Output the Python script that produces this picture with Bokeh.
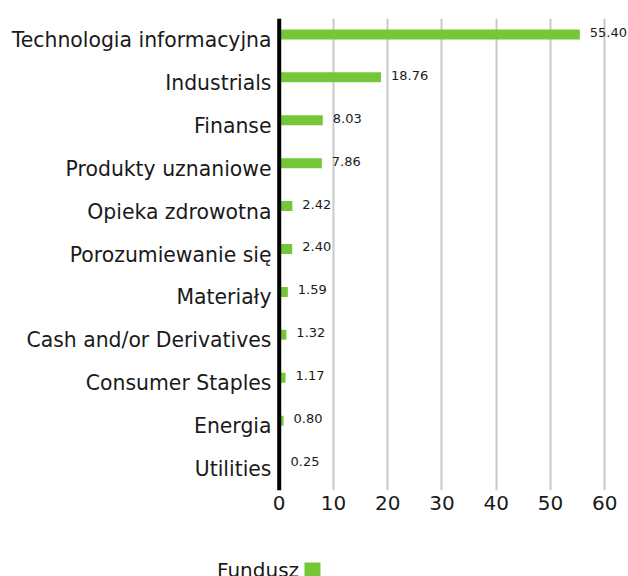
from bokeh.plotting import figure
from bokeh.models import (FactorRange, Range1d, Span, FixedTicker, ColumnDataSource,
                          Legend, LegendItem)
from bokeh.transform import dodge
from bokeh.core.properties import value
from bokeh.embed import file_html
from bokeh.resources import INLINE

categories = ["Technologia informacyjna", "Industrials", "Finanse", "Produkty uznaniowe",
              "Opieka zdrowotna", "Porozumiewanie się", "Materiały",
              "Cash and/or Derivatives", "Consumer Staples", "Energia", "Utilities"]
values = [55.40, 18.76, 8.03, 7.86, 2.42, 2.40, 1.59, 1.32, 1.17, 0.80, 0.25]
x_ticks = [0, 10, 20, 30, 40, 50, 60]
series_name = "Fundusz"

GREEN = "#74c837"
FONT = "DejaVu Sans"
TXT = "#1a1a1a"

BORDER_L, BORDER_T, BORDER_B = 272, 18, 86
FRAME_W, FRAME_H = 356, 472
X0, X1 = -1.235, 64.37

src = ColumnDataSource(dict(cat=categories, val=values,
                            lab=[f"{v:.2f}" for v in values]))

p = figure(frame_width=FRAME_W, frame_height=FRAME_H, output_backend="svg",
           toolbar_location=None,
           y_range=FactorRange(factors=categories[::-1]),
           x_range=Range1d(X0, X1),
           min_border_left=BORDER_L, min_border_right=0, min_border_top=BORDER_T,
           min_border_bottom=BORDER_B)
p.outline_line_color = None
p.background_fill_color = "white"
p.border_fill_color = "white"

bars = p.hbar(y=dodge("cat", 0.128, range=p.y_range), left=0, right="val", height=0.233,
              source=src, fill_color=GREEN, line_color=None)
# transparent twin, only used to reserve the (empty) glyph slot before the legend text
ghost = p.hbar(y=dodge("cat", 0.128, range=p.y_range), left=0, right="val", height=0.233,
               source=src, fill_alpha=0, line_alpha=0)
p.text(x="val", y=dodge("cat", 0.175, range=p.y_range), text="lab", source=src,
       x_offset=10, text_baseline="middle", text_align="left",
       text_font=value(FONT), text_font_size="13px", text_color=TXT)

p.add_layout(Span(location=0, dimension="height", line_color="black", line_width=4))

p.xaxis.ticker = FixedTicker(ticks=x_ticks)
p.xaxis.major_label_text_font = FONT
p.xaxis.major_label_text_font_size = "20px"
p.xaxis.major_label_text_color = TXT
p.xaxis.major_label_standoff = 5
p.xaxis.major_tick_out = 0
p.xaxis.major_tick_in = 0
p.xaxis.minor_tick_out = 0
p.xaxis.minor_tick_in = 0
p.xaxis.axis_line_color = None

p.yaxis.major_label_text_font = FONT
p.yaxis.major_label_text_font_size = "20.4px"
p.yaxis.major_label_text_color = TXT
p.yaxis.major_label_standoff = 1
p.yaxis.major_tick_out = 0
p.yaxis.major_tick_in = 0
p.yaxis.axis_line_color = None

p.xgrid.ticker = FixedTicker(ticks=x_ticks)
p.xgrid.grid_line_color = "#c8c8c8"
p.xgrid.grid_line_width = 2
p.ygrid.grid_line_color = None

legend = Legend(items=[LegendItem(label=series_name, renderers=[ghost]),
                       LegendItem(label=" ", renderers=[bars])],
                orientation="horizontal", location=(-80, 668),
                glyph_width=20, glyph_height=20, label_standoff=5, spacing=3,
                padding=0, margin=0, border_line_color=None,
                background_fill_alpha=0,
                label_text_font=FONT, label_text_font_size="20px",
                label_text_color=TXT)
p.add_layout(legend, "below")

open("out.html", "w").write(file_html(p, INLINE))
